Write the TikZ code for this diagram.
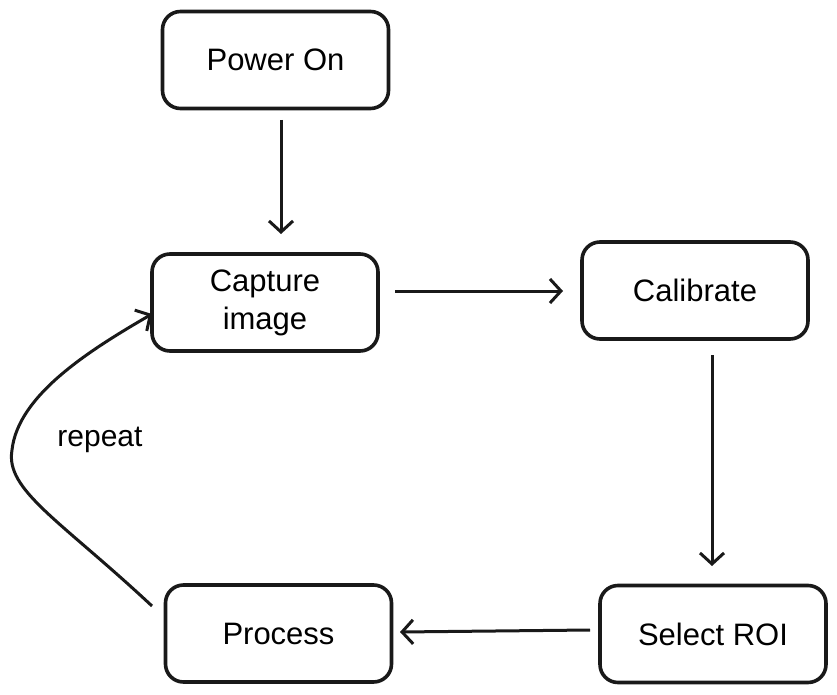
\documentclass[tikz,border=0pt]{standalone}
\usepackage{fontspec}
\setmainfont{Liberation Sans}
\usetikzlibrary{arrows.meta}
\begin{document}
\begin{tikzpicture}[x=1pt,y=-1pt,
  box/.style={draw=black!90, line width=3.6pt, rounded corners=18pt, minimum width=226pt, minimum height=97pt, align=center, font=\fontsize{31}{38}\selectfont, inner sep=0pt},
  arr/.style={draw=black!90, line width=3pt, -{Straight Barb[length=11pt,width=24pt,line width=3pt]}}]
\useasboundingbox (0,0) rectangle (837,695);
\node[box] (power) at (275.5,60) {Power On};
\node[box] (capture) at (265,302.5) {Capture\\image};
\node[box] (calib) at (695,290.5) {Calibrate};
\node[box] (roi) at (713,634) {Select ROI};
\node[box] (proc) at (278.5,633.5) {Process};
\coordinate (a1s) at (281,120);
\coordinate (a1e) at (281,234);
\coordinate (a2s) at (395,291);
\coordinate (a2e) at (563,291);
\coordinate (a3s) at (712,355);
\coordinate (a3e) at (712,566);
\coordinate (a4s) at (590,630);
\coordinate (a4e) at (400,632);
\coordinate (a5s) at (152,606);
\coordinate (a5m) at (12,450);
\coordinate (a5e) at (152,314);
\draw[arr] (a1s) -- (a1e);
\draw[arr] (a2s) -- (a2e);
\draw[arr] (a3s) -- (a3e);
\draw[arr] (a4s) -- (a4e);
\draw[arr] (a5s) .. controls (60,520) and (5,490) .. (a5m) .. controls (18,395) and (90,350) .. (a5e);
\node[font=\fontsize{30}{36}\selectfont] (rep) at (100,440) {repeat};
\end{tikzpicture}
\end{document}
